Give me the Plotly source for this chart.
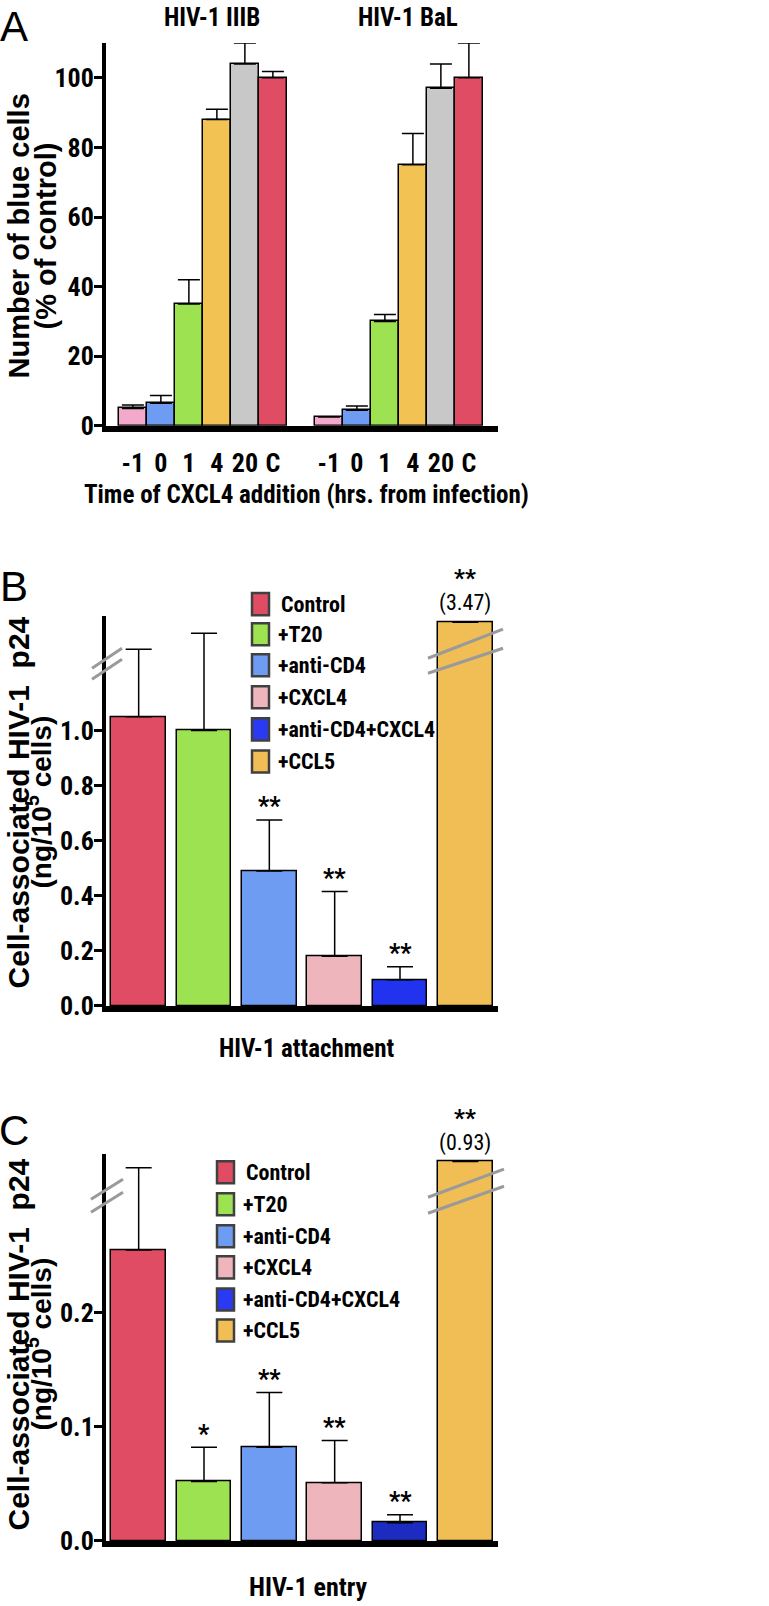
import plotly.graph_objects as go

# ---------------- data ----------------
# Panel A: time of CXCL4 addition
a_times = ["-1", "0", "1", "4", "20", "C"]
a_strains = ["HIV-1 IIIB", "HIV-1 BaL"]
a_iiib = [5, 6.5, 35, 88, 104, 100]
a_iiib_err = [1.0, 2.2, 7, 3, 6, 1.8]
a_bal = [2.5, 4.5, 30, 75, 97, 100]
a_bal_err = [0.0, 1.2, 2, 9, 7, 10]
a_colors = ["#f2a9cb", "#6e9cf2", "#9de250", "#f2c352", "#c8c8c8", "#e04c63"]

# Panels B and C: treatments
treatments = ["Control", "+T20", "+anti-CD4", "+CXCL4", "+anti-CD4+CXCL4", "+CCL5"]
b_values = [1.05, 1.0, 0.49, 0.18, 0.095, 3.47]
b_err = [0.245, 0.353, 0.185, 0.235, 0.047, 0.0]
b_sig = ["", "", "**", "**", "**", "**"]
c_values = [0.255, 0.052, 0.082, 0.051, 0.016, 0.93]
c_err = [0.072, 0.030, 0.048, 0.037, 0.007, 0.0]
c_sig = ["", "*", "**", "**", "**", "**"]
b_colors = ["#e04c63", "#9de250", "#6e9cf2", "#efb5bc", "#2233f0", "#f1bd55"]
c_colors = ["#e04c63", "#9de250", "#6e9cf2", "#efb5bc", "#1c2cc0", "#f1bd55"]
legend_colors = ["#e04c63", "#9de250", "#6e9cf2", "#efb5bc", "#2a3af2", "#f1bd55"]

# axis-break display limits (bars above are drawn broken)
b_break_top = 1.393
c_break_top = 0.3325

# ---------------- helpers ----------------
W, H = 769, 1606
H_EFF = 1588  # effective vertical extent observed in the rendered page
NARROW = "Liberation Sans Narrow, Arial Narrow, Roboto Condensed, sans-serif"
REG = "Liberation Sans, Arial, Helvetica, sans-serif"


def px(x):
    return x / W


def py(y):
    return 1 - y / H_EFF


fig = go.Figure()

# ---------------- Panel A ----------------
n = len(a_times)
for g, (vals, errs) in enumerate([(a_iiib, a_iiib_err), (a_bal, a_bal_err)]):
    xs = [i + g * (n + 1) for i in range(n)]
    fig.add_trace(go.Bar(
        x=xs, y=vals, width=1.0,
        marker=dict(color=a_colors, line=dict(color="black", width=1.5)),
        error_y=dict(type="data", symmetric=False, array=errs,
                     arrayminus=[0] * n, color="black", thickness=1.5, width=11),
        xaxis="x", yaxis="y", showlegend=False))
    fig.add_annotation(x=(n - 1) / 2 + g * (n + 1), y=py(17), xref="x", yref="paper",
                       text=a_strains[g], showarrow=False, xanchor="center", yanchor="middle",
                       xshift=9,
                       font=dict(family=NARROW, size=25, weight="bold", color="black"))

a_tickvals = [i + g * (n + 1) for g in range(2) for i in range(n)]
a_ticktext = a_times * 2

# ---------------- Panels B & C ----------------
idx = list(range(len(treatments)))


def add_panel(values, errs, sigs, colors, top, xa, ya):
    shown = [min(v, top) for v in values]
    fig.add_trace(go.Bar(
        x=idx, y=shown, width=0.84,
        marker=dict(color=colors, line=dict(color="black", width=1.5)),
        error_y=dict(type="data", symmetric=False, array=errs,
                     arrayminus=[0] * len(errs), color="black", thickness=1.5, width=13),
        xaxis=xa, yaxis=ya, showlegend=False))
    for i, (s, v, e) in enumerate(zip(sigs, values, errs)):
        if v > top:
            fig.add_annotation(x=i, y=top, xref=xa, yref=ya, text="(%.2f)" % v,
                               showarrow=False, xanchor="center", yanchor="middle", yshift=19,
                               font=dict(family=NARROW, size=22, color="black"))
            fig.add_annotation(x=i, y=top, xref=xa, yref=ya, text=s,
                               showarrow=False, xanchor="center", yanchor="middle", yshift=44,
                               font=dict(family=NARROW, size=24, weight="bold", color="black"))
        elif s:
            fig.add_annotation(x=i, y=min(v, top) + e, xref=xa, yref=ya, text=s,
                               showarrow=False, xanchor="center", yanchor="middle", yshift=13,
                               font=dict(family=NARROW, size=25, weight="bold", color="black"))


add_panel(b_values, b_err, b_sig, b_colors, b_break_top, "x2", "y2")
add_panel(c_values, c_err, c_sig, c_colors, c_break_top, "x3", "y3")


# ---------------- legends (B and C) ----------------
def add_legend(x_sw, x_txt, y_centers):
    for lab, col, yc in zip(treatments, legend_colors, y_centers):
        fig.add_shape(type="rect", xref="paper", yref="paper",
                      x0=px(x_sw), x1=px(x_sw + 17), y0=py(yc + 11), y1=py(yc - 11),
                      fillcolor=col, line=dict(color="#404040", width=2.5))
        fig.add_annotation(x=px(x_txt + (3 if lab == "Control" else 0)), y=py(yc),
                           xref="paper", yref="paper", text=lab, showarrow=False,
                           xanchor="left", yanchor="middle",
                           font=dict(family=NARROW, size=22, weight="bold", color="black"))


add_legend(252, 276, [603, 633, 664, 696, 728, 760])
add_legend(217, 241, [1170, 1202, 1234, 1265, 1297, 1328])

# ---------------- axis-break marks ----------------
breaks = [
    [(92, 667, 122, 647), (92, 678, 122, 658), (428, 657, 503, 628), (428, 672, 503, 647)],
    [(91, 1197, 123, 1177), (91, 1210, 123, 1190), (428, 1195, 504, 1167), (428, 1211, 504, 1184)],
]
for grp in breaks:
    for (x0, y0, x1, y1) in grp:
        fig.add_shape(type="line", xref="paper", yref="paper",
                      x0=px(x0), y0=py(y0), x1=px(x1), y1=py(y1),
                      line=dict(color="#9a9a9a", width=3))


# ---------------- text labels ----------------
def ann(text, x, y, size, family=REG, weight="normal", angle=0, xanchor="center", yanchor="middle"):
    fig.add_annotation(text=text, x=px(x), y=py(y), xref="paper", yref="paper",
                       showarrow=False, textangle=angle, xanchor=xanchor, yanchor=yanchor,
                       font=dict(family=family, size=size, weight=weight, color="black"))


ann("A", 14, 1, 42, yanchor="top")
ann("B", 14, 560, 42, yanchor="top")
ann("C", 14, 1103, 42, yanchor="top")

ann("Number of blue cells", 19, 236, 29, weight="bold", angle=-90)
ann("(% of control)", 46, 236, 29, weight="bold", angle=-90)
for yc in (801, 1342):
    ann("Cell-associated HIV-1  p24", 19, yc, 30, weight="bold", angle=-90)
    ann("(ng/10<sup>5</sup> cells)", 39, yc, 28, weight="bold", angle=-90)

ann("Time of CXCL4 addition (hrs. from infection)", 306, 494, 25, family=NARROW, weight="bold")
ann("HIV-1 attachment", 307, 1047, 25, family=NARROW, weight="bold")
ann("HIV-1 entry", 308, 1584, 26, family=NARROW, weight="bold")

# ---------------- axes ----------------
xdom = [px(106), px(498)]
tickfont = dict(family=NARROW, size=26, weight="bold", color="black")
yax_common = dict(showline=True, linecolor="black", linewidth=4, ticks="outside",
                  ticklen=8, tickwidth=3, tickcolor="black", showgrid=False,
                  zeroline=False, tickfont=tickfont, fixedrange=True, ticklabelstandoff=-5)
xax_common = dict(showline=True, linecolor="black", linewidth=6, ticks="",
                  showgrid=False, zeroline=False, fixedrange=True)

fig.update_layout(
    width=W, height=H,
    margin=dict(l=0, r=0, t=0, b=0),
    paper_bgcolor="white", plot_bgcolor="white",
    bargap=0,
    xaxis=dict(domain=xdom, range=[-0.96, 13.04], tickvals=a_tickvals, ticktext=a_ticktext,
               tickfont=dict(family=NARROW, size=26, weight="bold", color="black"),
               ticklabelstandoff=9, anchor="y", **xax_common),
    yaxis=dict(domain=[py(425), py(43)], range=[0, 110], tickvals=[0, 20, 40, 60, 80, 100],
               anchor="x", **yax_common),
    xaxis2=dict(domain=xdom, range=[-0.5, 5.5], showticklabels=False, anchor="y2", **xax_common),
    yaxis2=dict(domain=[py(1004), py(615)], range=[0, 1.415],
                tickvals=[0, 0.2, 0.4, 0.6, 0.8, 1.0], tickformat=".1f", anchor="x2", **yax_common),
    xaxis3=dict(domain=xdom, range=[-0.5, 5.5], showticklabels=False, anchor="y3", **xax_common),
    yaxis3=dict(domain=[py(1538), py(1152)], range=[0, 0.339],
                tickvals=[0, 0.1, 0.2], tickformat=".1f", anchor="x3", **yax_common),
)

fig.write_html(
    "out.html",
    config={"displayModeBar": False},
    post_script=("var d=document.documentElement,b=document.body;"
                 "d.style.margin='0';d.style.padding='0';d.style.overflow='hidden';"
                 "b.style.margin='0';b.style.padding='0';b.style.overflow='hidden';"),
)
